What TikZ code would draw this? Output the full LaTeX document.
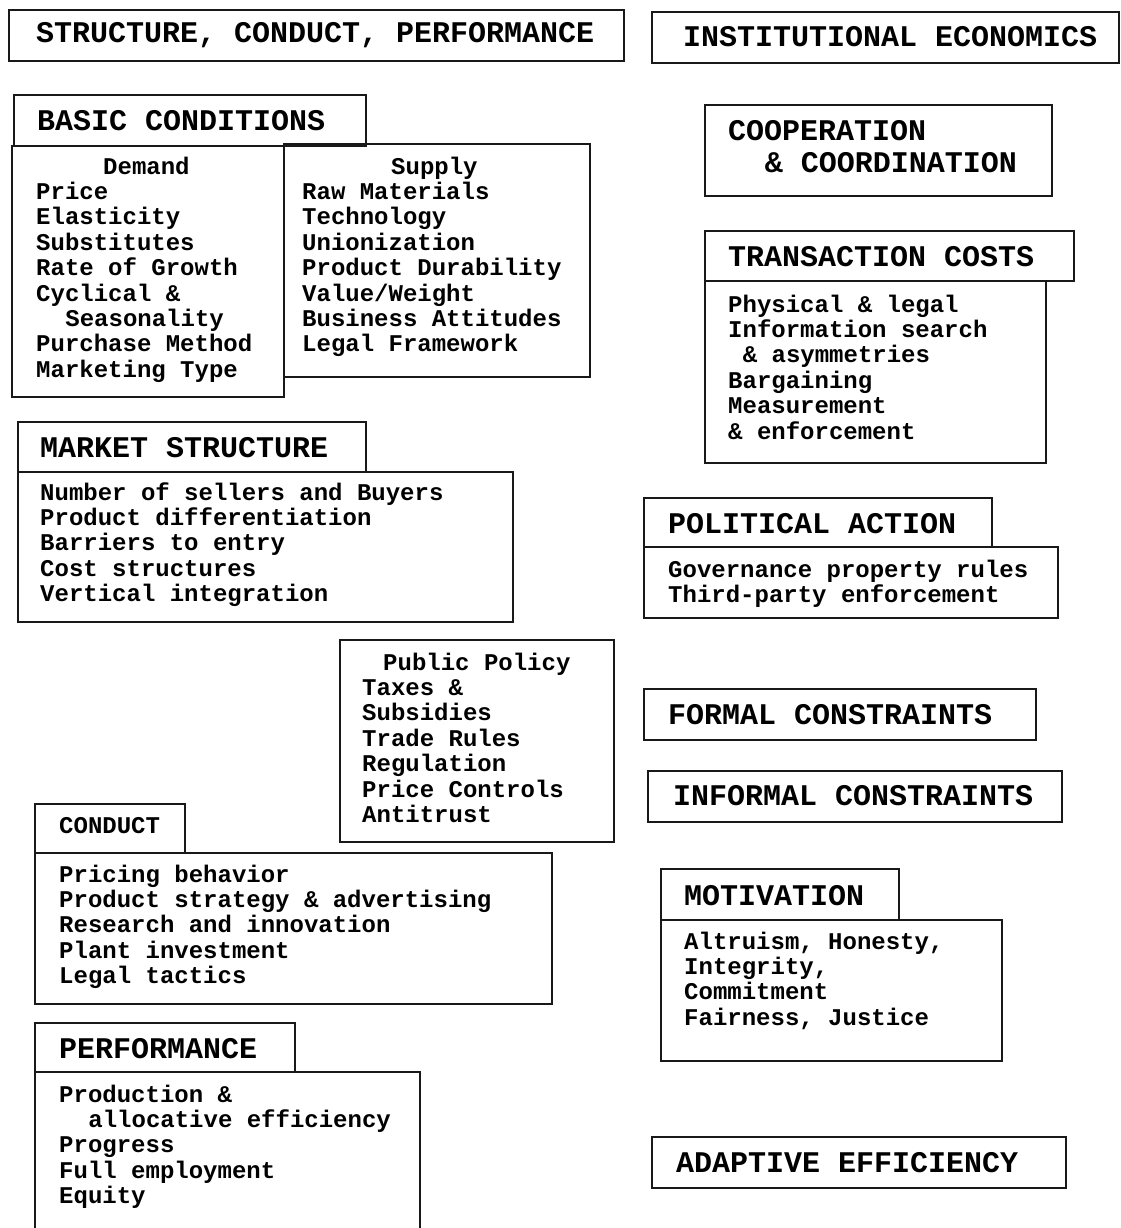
\documentclass[tikz,border=0pt]{standalone}
\usepackage{fontspec}
\newfontfamily\monofam{Liberation Mono}
\newcommand\hdrfont{\monofam\bfseries\fontsize{30}{32}\selectfont}
\newcommand\bodyfont{\monofam\bfseries\fontsize{24}{25.4}\selectfont}
\begin{document}
\begin{tikzpicture}[x=1pt,y=-1pt,
  box/.style={draw=black!90, line width=1.8pt},
  hdr/.style={anchor=base west, inner sep=0pt, align=left, font=\hdrfont},
  txt/.style={anchor=base west, inner sep=0pt, align=left, font=\bodyfont}]
\useasboundingbox (0,0) rectangle (1120,1228);
\clip (0,0) rectangle (1120,1228);
\fill[white] (0,0) rectangle (1120,1228);

% (multi-line nodes are placed by the baseline of their LAST line)
% ---------------- left column ----------------
\draw[box] (9,10) rectangle (624,61);
\node[hdr] (scp) at (36,43) {STRUCTURE, CONDUCT, PERFORMANCE};

\draw[box] (14,95) rectangle (366,146);
\node[hdr] (bc) at (37,131) {BASIC CONDITIONS};
\draw[box] (284,144) rectangle (590,377);
\draw[box] (12,146) rectangle (284,397);
\node[txt] (dem) at (36,377.2) {\hspace*{67pt}Demand\\Price\\Elasticity\\Substitutes\\Rate of Growth\\Cyclical \&\\\hspace*{29.2pt}Seasonality\\Purchase Method\\Marketing Type};
\node[txt] (sup) at (302,351.8) {\hspace*{89pt}Supply\\Raw Materials\\Technology\\Unionization\\Product Durability\\Value/Weight\\Business Attitudes\\Legal Framework};

\draw[box] (18,422) rectangle (366,472);
\node[hdr] (ms) at (40,457) {MARKET STRUCTURE};
\draw[box] (18,472) rectangle (513,622);
\node[txt] (msb) at (40,601.6) {Number of sellers and Buyers\\Product differentiation\\Barriers to entry\\Cost structures\\Vertical integration};

\draw[box] (340,640) rectangle (614,842);
\node[txt] (pp) at (362,822.4) {\hspace*{21pt}Public Policy\\Taxes \&\\Subsidies\\Trade Rules\\Regulation\\Price Controls\\Antitrust};

\draw[box] (35,804) rectangle (185,853);
\node[txt] (cd) at (59,833) {CONDUCT};
\draw[box] (35,853) rectangle (552,1004);
\node[txt] (cdb) at (59,983.6) {Pricing behavior\\Product strategy \& advertising\\Research and innovation\\Plant investment\\Legal tactics};

\draw[box] (35,1023) rectangle (295,1072);
\node[hdr] (pf) at (59,1058) {PERFORMANCE};
\draw[box] (35,1072) rectangle (420,1245);
\node[txt] (pfb) at (59,1203.6) {Production \&\\\hspace*{29.2pt}allocative efficiency\\Progress\\Full employment\\Equity};

% ---------------- right column ----------------
\draw[box] (652,12) rectangle (1119,63);
\node[hdr] (ie) at (683,47) {INSTITUTIONAL ECONOMICS};

\draw[box] (705,105) rectangle (1052,196);
\node[hdr] (co) at (728,172) {COOPERATION\\\hspace*{36.6pt}\& COORDINATION};

\draw[box] (705,231) rectangle (1074,281);
\node[hdr] (tc) at (728,266) {TRANSACTION COSTS};
\draw[box] (705,281) rectangle (1046,463);
\node[txt] (tcb) at (728,439) {Physical \& legal\\Information search\\\hspace*{14.6pt}\& asymmetries\\Bargaining\\Measurement\\\& enforcement};

\draw[box] (644,498) rectangle (992,547);
\node[hdr] (pa) at (668,533) {POLITICAL ACTION};
\draw[box] (644,547) rectangle (1058,618);
\node[txt] (pab) at (668,602.4) {Governance property rules\\Third-party enforcement};

\draw[box] (644,689) rectangle (1036,740);
\node[hdr] (fc) at (668,724) {FORMAL CONSTRAINTS};

\draw[box] (648,771) rectangle (1062,822);
\node[hdr] (ic) at (673,805) {INFORMAL CONSTRAINTS};

\draw[box] (661,869) rectangle (899,920);
\node[hdr] (mo) at (684,905) {MOTIVATION};
\draw[box] (661,920) rectangle (1002,1061);
\node[txt] (mob) at (684,1025.2) {Altruism, Honesty,\\Integrity,\\Commitment\\Fairness, Justice};

\draw[box] (652,1137) rectangle (1066,1188);
\node[hdr] (ae) at (676,1172) {ADAPTIVE EFFICIENCY};
\end{tikzpicture}
\end{document}
